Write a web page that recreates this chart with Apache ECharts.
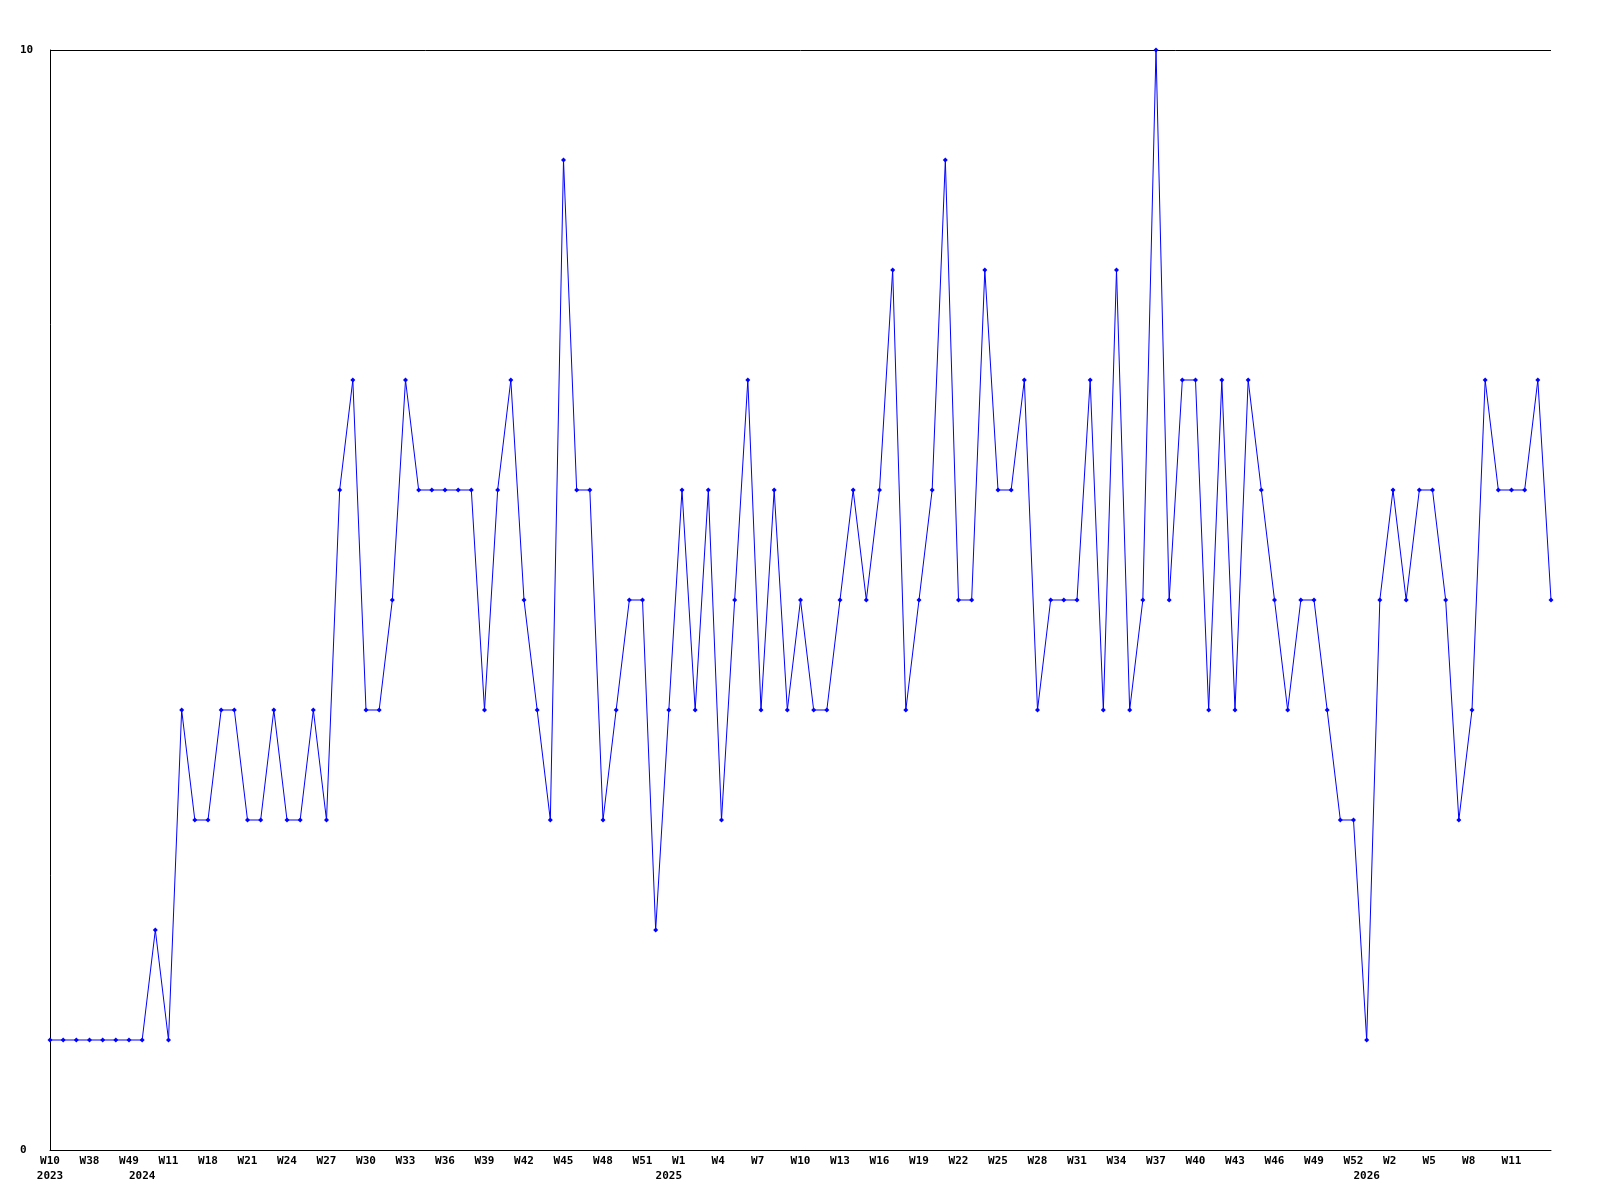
<!DOCTYPE html>
<html>
<head>
<meta charset="utf-8">
<script src="https://cdn.jsdelivr.net/npm/echarts@6/dist/echarts.min.js"></script>
<style>
html,body{margin:0;padding:0;background:#fff;}
#chart{width:1600px;height:1200px;}
</style>
</head>
<body>
<div id="chart"></div>
<script>
const weeks = [
  "W10","W20","W31","W38","W41","W45","W49",
  "W0","W5","W11","W14","W16","W18","W19","W20","W21","W22","W23","W24","W25",
  "W26","W27","W28","W29","W30","W31","W32","W33","W34","W35","W36","W37","W38","W39",
  "W40","W41","W42","W43","W44","W45","W46","W47","W48","W49","W50","W51","W52",
  "W0","W1","W2","W3","W4","W5","W6","W7","W8","W9","W10","W11","W12","W13","W14",
  "W15","W16","W17","W18","W19","W20","W21","W22","W23","W24","W25","W26","W27","W28",
  "W29","W30","W31","W32","W33","W34","W35","W36","W37","W38","W39","W40","W41","W42",
  "W43","W44","W45","W46","W47","W48","W49","W50","W51","W52",
  "W0","W1","W2","W3","W4","W5","W6","W7","W8","W9","W10","W11","W12","W13","W14"
];
const years = [
  "2023","2023","2023","2023","2023","2023","2023",
  "2024","2024","2024","2024","2024","2024","2024","2024","2024","2024","2024","2024","2024",
  "2024","2024","2024","2024","2024","2024","2024","2024","2024","2024","2024","2024","2024","2024",
  "2024","2024","2024","2024","2024","2024","2024","2024","2024","2024","2024","2024","2024",
  "2025","2025","2025","2025","2025","2025","2025","2025","2025","2025","2025","2025","2025","2025","2025",
  "2025","2025","2025","2025","2025","2025","2025","2025","2025","2025","2025","2025","2025","2025",
  "2025","2025","2025","2025","2025","2025","2025","2025","2025","2025","2025","2025","2025","2025",
  "2025","2025","2025","2025","2025","2025","2025","2025","2025","2025",
  "2026","2026","2026","2026","2026","2026","2026","2026","2026","2026","2026","2026","2026","2026","2026"
];
const values = [
  1,1,1,1,1,1,1,1,2,1,
  4,3,3,4,4,3,3,4,3,3,
  4,3,6,7,4,4,5,7,6,6,
  6,6,6,4,6,7,5,4,3,9,
  6,6,3,4,5,5,2,4,6,4,
  6,3,5,7,4,6,4,5,4,4,
  5,6,5,6,8,4,5,6,9,5,
  5,8,6,6,7,4,5,5,5,7,
  4,8,4,5,10,5,7,7,4,7,
  4,7,6,5,4,5,5,4,3,3,
  1,5,6,5,6,6,5,3,4,7,
  6,6,6,7,5
];
const yMin = 0, yMax = 10;

const font = {fontFamily: '"DejaVu Sans Mono", monospace', fontWeight: 'bold', fontSize: 11, color: '#000'};
const chart = echarts.init(document.getElementById('chart'), null, {renderer: 'canvas'});
chart.setOption({
  backgroundColor: '#fff',
  animation: false,
  grid: {left: 50, right: 49, top: 50, bottom: 50, containLabel: false},
  xAxis: [
    {
      type: 'category', data: weeks, boundaryGap: false, position: 'bottom',
      axisLine: {show: true, lineStyle: {color: '#000', width: 1}},
      axisTick: {show: false},
      splitLine: {show: false},
      axisLabel: Object.assign({
        interval: function (i) { return i % 3 === 0 && i < weeks.length - 1; },
        formatter: function (v) { return v.length < 3 ? v + ' ' : v; },
        margin: 6
      }, font)
    },
    {
      type: 'category', data: years, boundaryGap: false, position: 'bottom', offset: 15,
      axisLine: {show: false}, axisTick: {show: false}, splitLine: {show: false},
      axisLabel: Object.assign({
        interval: function (i) { return i === 0 || years[i] !== years[i - 1]; },
        margin: 6
      }, font)
    }
  ],
  yAxis: {
    type: 'value', min: yMin, max: yMax, interval: 10,
    axisLine: {show: true, lineStyle: {color: '#000', width: 1}},
    axisTick: {show: false},
    splitLine: {show: true, lineStyle: {color: '#000', width: 1}},
    axisLabel: Object.assign({align: 'left', margin: 30}, font)
  },
  series: [{
    type: 'line', xAxisIndex: 0, data: values,
    symbol: 'diamond', symbolSize: 5, showSymbol: true,
    itemStyle: {color: '#0000ff'},
    lineStyle: {color: '#0000ff', width: 1}
  }]
});
</script>
</body>
</html>
